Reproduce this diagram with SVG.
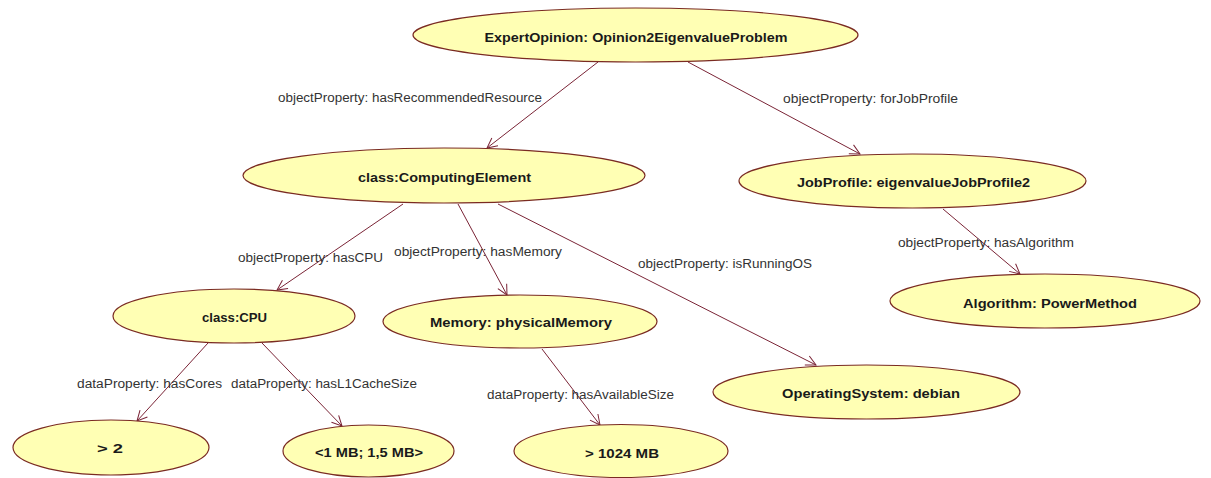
<svg xmlns="http://www.w3.org/2000/svg" width="1211" height="478" viewBox="0 0 1211 478">
  <style>
    .node ellipse { fill: #ffffb4; stroke: #7a2b22; stroke-width: 1.2; }
    .node text { font-family: "Liberation Sans", Arial, sans-serif; font-weight: bold; font-size: 13px; fill: #1a1a1a; text-anchor: middle; }
    .edge line { stroke: #7a2436; stroke-width: 1; fill: none; }
    .label { font-family: "Liberation Sans", Arial, sans-serif; font-size: 12.5px; fill: #333333; }
  </style>
  <defs>
    <marker id="arrow" viewBox="0 0 12 12" refX="11" refY="6" markerWidth="12" markerHeight="12" markerUnits="userSpaceOnUse" orient="auto">
      <path d="M1,1 L11,6 L1,11" fill="none" stroke="#7a2436" stroke-width="1"/>
    </marker>
  </defs>
  <rect width="1211" height="478" fill="#ffffff"/>

  <!-- connectors -->
  <g id="connectors">
    <g class="edge"><line x1="598" y1="62" x2="487" y2="148" marker-end="url(#arrow)"/></g>
    <g class="edge"><line x1="688" y1="62" x2="860" y2="154" marker-end="url(#arrow)"/></g>
    <g class="edge"><line x1="403" y1="204" x2="277" y2="290" marker-end="url(#arrow)"/></g>
    <g class="edge"><line x1="458" y1="204" x2="507" y2="295" marker-end="url(#arrow)"/></g>
    <g class="edge"><line x1="498" y1="204" x2="816" y2="365" marker-end="url(#arrow)"/></g>
    <g class="edge"><line x1="943" y1="209" x2="1020" y2="274" marker-end="url(#arrow)"/></g>
    <g class="edge"><line x1="208" y1="343" x2="137" y2="421" marker-end="url(#arrow)"/></g>
    <g class="edge"><line x1="262" y1="343" x2="342" y2="426" marker-end="url(#arrow)"/></g>
    <g class="edge"><line x1="542" y1="349" x2="600" y2="425" marker-end="url(#arrow)"/></g>

    <text class="label" x="278" y="102" textLength="264" lengthAdjust="spacingAndGlyphs">objectProperty: hasRecommendedResource</text>
    <text class="label" x="783" y="103" textLength="175" lengthAdjust="spacingAndGlyphs">objectProperty: forJobProfile</text>
    <text class="label" x="238" y="262" textLength="145" lengthAdjust="spacingAndGlyphs">objectProperty: hasCPU</text>
    <text class="label" x="394" y="256" textLength="168" lengthAdjust="spacingAndGlyphs">objectProperty: hasMemory</text>
    <text class="label" x="638" y="268" textLength="174" lengthAdjust="spacingAndGlyphs">objectProperty: isRunningOS</text>
    <text class="label" x="898" y="247" textLength="176" lengthAdjust="spacingAndGlyphs">objectProperty: hasAlgorithm</text>
    <text class="label" x="77" y="388" textLength="145" lengthAdjust="spacingAndGlyphs">dataProperty: hasCores</text>
    <text class="label" x="231" y="388" textLength="186" lengthAdjust="spacingAndGlyphs">dataProperty: hasL1CacheSize</text>
    <text class="label" x="487" y="399" textLength="187" lengthAdjust="spacingAndGlyphs">dataProperty: hasAvailableSize</text>
  </g>

  <!-- nodes -->
  <g id="expertOpinion" class="node">
    <ellipse cx="635.5" cy="35" rx="222.5" ry="27"/>
    <text x="636" y="42" textLength="303" lengthAdjust="spacingAndGlyphs">ExpertOpinion: Opinion2EigenvalueProblem</text>
  </g>
  <g id="computingElement" class="node">
    <ellipse cx="444" cy="175.5" rx="201" ry="27.5"/>
    <text x="444.5" y="182" textLength="173" lengthAdjust="spacingAndGlyphs">class:ComputingElement</text>
  </g>
  <g id="jobProfile" class="node">
    <ellipse cx="912.5" cy="181" rx="173.5" ry="27"/>
    <text x="913.5" y="187" textLength="233" lengthAdjust="spacingAndGlyphs">JobProfile: eigenvalueJobProfile2</text>
  </g>
  <g id="algorithm" class="node">
    <ellipse cx="1045" cy="301" rx="155" ry="27"/>
    <text x="1050" y="308" textLength="174" lengthAdjust="spacingAndGlyphs">Algorithm: PowerMethod</text>
  </g>
  <g id="cpu" class="node">
    <ellipse cx="234" cy="316" rx="121" ry="27"/>
    <text x="234.5" y="322" textLength="65" lengthAdjust="spacingAndGlyphs">class:CPU</text>
  </g>
  <g id="memory" class="node">
    <ellipse cx="520" cy="321.5" rx="137" ry="26.5"/>
    <text x="521" y="327" textLength="182" lengthAdjust="spacingAndGlyphs">Memory: physicalMemory</text>
  </g>
  <g id="operatingSystem" class="node">
    <ellipse cx="866.5" cy="392" rx="153.5" ry="27"/>
    <text x="871" y="398" textLength="178" lengthAdjust="spacingAndGlyphs">OperatingSystem: debian</text>
  </g>
  <g id="cores" class="node">
    <ellipse cx="111" cy="447.5" rx="98" ry="27.5"/>
    <text x="110" y="453" textLength="26" lengthAdjust="spacingAndGlyphs">&gt; 2</text>
  </g>
  <g id="l1CacheSize" class="node">
    <ellipse cx="368.5" cy="451" rx="85.5" ry="26"/>
    <text x="369" y="457" textLength="108" lengthAdjust="spacingAndGlyphs">&lt;1 MB; 1,5 MB&gt;</text>
  </g>
  <g id="availableSize" class="node">
    <ellipse cx="621" cy="451" rx="107" ry="26.5"/>
    <text x="622" y="458" textLength="74" lengthAdjust="spacingAndGlyphs">&gt; 1024 MB</text>
  </g>
</svg>
